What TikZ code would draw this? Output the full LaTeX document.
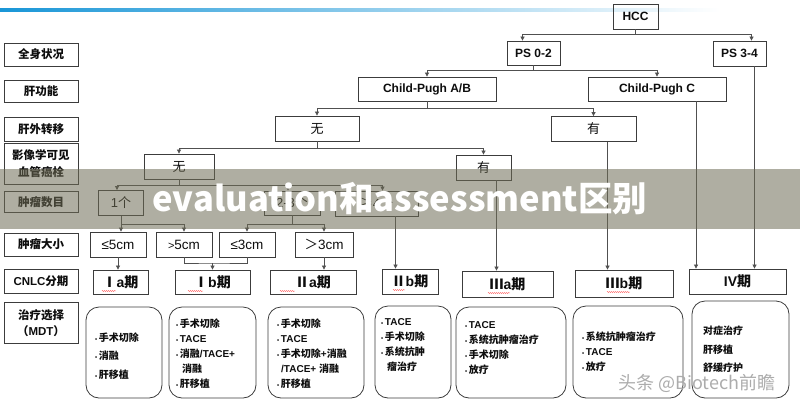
\documentclass[tikz,border=0pt]{standalone}
\usepackage{fontspec}
\setmainfont{Liberation Sans}
\newfontfamily\zh{Noto Sans CJK SC}
\usetikzlibrary{arrows.meta, positioning, calc, decorations.pathmorphing}
\definecolor{linegray}{RGB}{80,80,80}
\definecolor{boxgray}{RGB}{60,60,60}
\definecolor{bannergray}{RGB}{110,108,85}
\definecolor{topblue}{RGB}{25,150,215}
\newcommand{\bul}{{\fontsize{6}{6}\selectfont\textbullet}\,}

\begin{document}
\begin{tikzpicture}[x=1pt, y=-1pt,
    box/.style={draw=boxgray, line width=0.8pt, inner sep=0pt, text=black!95},
    lbl/.style={box, minimum width=74pt, align=center, font=\bfseries\fontsize{11.5}{17}\selectfont},
    treebox/.style={box, font=\bfseries\fontsize{12}{14}\selectfont},
    choice/.style={box, minimum height=25pt, font=\fontsize{13}{14}\selectfont},
    sizebox/.style={box, minimum width=56pt, minimum height=25pt, font=\fontsize{13.5}{14}\selectfont},
    stage/.style={box, minimum height=24pt, font=\bfseries\fontsize{14}{15}\selectfont},
    tbox/.style={draw=boxgray, line width=0.8pt, rounded corners=13pt, inner sep=0pt},
    tlist/.style={anchor=west, inner sep=0pt, align=left, text=black!95, font=\bfseries\fontsize{10}{15}\selectfont},
    arr/.style={draw=linegray, line width=0.7pt, -{Triangle[width=4pt,length=4pt]}},
    ln/.style={draw=linegray, line width=0.7pt},
    squiggle/.style={draw=red!60, line width=0.4pt, decorate, decoration={snake, amplitude=0.6pt, segment length=2pt}}
]
\useasboundingbox (0,0) rectangle (800,400);

% top rule
\shade[left color=topblue, right color=white] (0,8) rectangle (720,11);

% ------------------ left column ------------------
\node[lbl, minimum height=23pt] (lstatus) at (41,54.5) {{\zh 全身状况}};
\node[lbl, minimum height=22pt] (lliver) at (41,91) {{\zh 肝功能}};
\node[lbl, minimum height=24pt] (lmeta) at (41,129) {{\zh 肝外转移}};
\node[lbl, minimum height=41pt] (lvein) at (41,163.5) {{\zh 影像学可见}\\{\zh 血管癌栓}};
\node[lbl, minimum height=21pt] (lcount) at (41,202) {{\zh 肿瘤数目}};
\node[lbl, minimum height=23pt] (lsize) at (41,244.5) {{\zh 肿瘤大小}};
\node[lbl, minimum height=24pt] (lcnlc) at (41,281) {CNLC{\zh 分期}};
\node[lbl, minimum height=41pt, font=\bfseries\fontsize{11.5}{16}\selectfont] (lmdt) at (41,323) {{\zh 治疗选择}\\{\zh （}MDT{\zh ）}};

% ------------------ decision tree ------------------
\node[treebox, minimum width=45pt, minimum height=25pt] (hcc) at (635.5,16.5) {HCC};
\node[treebox, minimum width=53pt, minimum height=24pt] (ps02) at (533.5,53) {PS 0-2};
\node[treebox, minimum width=53pt, minimum height=25pt] (ps34) at (739.5,53.5) {PS 3-4};
\node[treebox, minimum width=138pt, minimum height=24pt] (cpab) at (427,89) {Child-Pugh A/B};
\node[treebox, minimum width=138pt, minimum height=24pt] (cpc) at (657,89) {Child-Pugh C};

\node[choice, minimum width=84pt] (nometa) at (317,128.5) {{\zh 无}};
\node[choice, minimum width=85pt] (meta) at (593.5,129) {{\zh 有}};
\node[choice, minimum width=70pt] (novein) at (179,166.5) {{\zh 无}};
\node[choice, minimum width=55pt] (vein) at (483.5,167.5) {{\zh 有}};

\node[choice, minimum width=45pt] (one) at (121,203) {1{\zh 个}};
\node[choice, minimum width=56pt, minimum height=24pt] (twothree) at (292,203) {2-3{\zh 个}};
\node[choice, minimum width=83pt] (four) at (376.5,203.5) {{\zh ≥}4{\zh 个}};

\node[sizebox] (lefive) at (118,244.5) {≤5cm};
\node[sizebox] (gtfive) at (184,244.5) {{\fontsize{11}{12}\selectfont >}5cm};
\node[sizebox] (lethree) at (247,244.5) {≤3cm};
\node[sizebox, minimum width=58pt] (gtthree) at (324,244.5) {{\zh ＞}3cm};

\node[stage, minimum width=55pt] (sIa) at (120.5,282) {{\zh Ⅰ}a{\zh 期}};
\node[stage, minimum width=75pt] (sIb) at (212.5,282) {{\zh Ⅰ}b{\zh 期}};
\node[stage, minimum width=86pt] (sIIa) at (313,282) {{\zh Ⅱ}a{\zh 期}};
\node[stage, minimum width=56pt, minimum height=25pt] (sIIb) at (410,281.5) {{\zh Ⅱ}b{\zh 期}};
\node[stage, minimum width=91pt, minimum height=26pt] (sIIIa) at (507.5,284) {{\zh Ⅲ}a{\zh 期}};
\node[stage, minimum width=98pt, minimum height=27pt] (sIIIb) at (624,283.5) {{\zh Ⅲ}b{\zh 期}};
\node[stage, minimum width=97pt, minimum height=25pt] (sIV) at (737.5,281.5) {IV{\zh 期}};

% spell-check marks
\draw[squiggle] (102,291) -- (116,291);
\draw[squiggle] (188,291) -- (203,291);
\draw[squiggle] (280,291) -- (295,291);
\draw[squiggle] (393,290) -- (405,290);
\draw[squiggle] (488,293) -- (510,293);
\draw[squiggle] (607,292) -- (630,292);

% branches
\draw[arr] (hcc.south) -- ++(0,5) -| ([xshift=-11pt]ps02.north);
\draw[arr] (hcc.south) -- ++(0,5) -| ([xshift=12pt]ps34.north);
\draw[arr] (ps02.south) -- ++(0,5) -| (cpab.north);
\draw[arr] (ps02.south) -- ++(0,5) -| (cpc.north);
\draw[arr] (cpab.south) -- ++(0,7) -| (nometa.north);
\draw[arr] (cpab.south) -- ++(0,7) -| (meta.north);
\draw[arr] (nometa.south) -- ++(0,7) -| (novein.north);
\draw[arr] (nometa.south) -- ++(0,7) -| (vein.north);
\draw[arr] (novein.south) -- ++(0,6) -| ([xshift=-4pt]one.north);
\draw[arr] (novein.south) -- ++(0,6) -| ([xshift=-4pt]twothree.north);
\draw[arr] (novein.south) -- ++(0,6) -| ([xshift=6pt]four.north);
\draw[arr] (one.south) -- (one.south |- lefive.north);
\draw[arr] (one.south) -- ++(0,8) -| (gtfive.north);
\draw[arr] (twothree.south) -- ++(0,9) -| (lethree.north);
\draw[arr] (twothree.south) -- ++(0,9) -| (gtthree.north);

% sizes to stages
\coordinate (join) at (212.5,263);
\draw[arr] (lefive.south) -- (lefive.south |- sIa.north);
\draw[ln] (gtfive.south) |- (join) -| (lethree.south);
\draw[arr] (join) -- (sIb.north);
\draw[arr] (gtthree.south) -- (gtthree.south |- sIIa.north);
\draw[arr] ([xshift=19pt]four.south) -- ([xshift=19pt]four.south |- sIIb.north);
\draw[arr] ([xshift=13pt]vein.south) -- ([xshift=13pt]vein.south |- sIIIa.north);
\draw[arr] ([xshift=14pt]meta.south) -- ([xshift=14pt]meta.south |- sIIIb.north);
\draw[arr] ([xshift=39pt]cpc.south) -- ([xshift=39pt]cpc.south |- sIV.north);
\draw[arr] ([xshift=15pt]ps34.south) -- ([xshift=15pt]ps34.south |- sIV.north);

% ------------------ treatment options ------------------
\node[tbox, minimum width=76pt, minimum height=91pt] (tIa) at (124,352.5) {};
\node[tbox, minimum width=87pt, minimum height=91pt] (tIb) at (212.5,352.5) {};
\node[tbox, minimum width=96pt, minimum height=91pt] (tIIa) at (316,352.5) {};
\node[tbox, minimum width=76pt, minimum height=92pt] (tIIb) at (413,352) {};
\node[tbox, minimum width=110pt, minimum height=91pt] (tIIIa) at (511,352.5) {};
\node[tbox, minimum width=110pt, minimum height=92pt] (tIIIb) at (628,352) {};
\node[tbox, minimum width=97pt, minimum height=97pt] (tIV) at (740.5,349.5) {};

\node[tlist, font=\bfseries\fontsize{10}{18.5}\selectfont] (lIa) at (95,356) {\bul{\zh 手术切除}\\\bul{\zh 消融}\\\bul{\zh 肝移植}};
\node[tlist] (lIb) at (176,354) {\bul{\zh 手术切除}\\\bul TACE\\\bul{\zh 消融}/TACE+\\\hspace*{6pt}{\zh 消融}\\\bul{\zh 肝移植}};
\node[tlist] (lIIa) at (277,354) {\bul{\zh 手术切除}\\\bul TACE\\\bul{\zh 手术切除}+{\zh 消融}\\\hspace*{4pt}/TACE+ {\zh 消融}\\\bul{\zh 肝移植}};
\node[tlist] (lIIb) at (381,344.5) {\bul TACE\\\bul{\zh 手术切除}\\\bul{\zh 系统抗肿}\\\hspace*{6pt}{\zh 瘤治疗}};
\node[tlist, font=\bfseries\fontsize{10}{15.3}\selectfont] (lIIIa) at (465,348) {\bul TACE\\\bul{\zh 系统抗肿瘤治疗}\\\bul{\zh 手术切除}\\\bul{\zh 放疗}};
\node[tlist] (lIIIb) at (582,352) {\bul{\zh 系统抗肿瘤治疗}\\\bul TACE\\\bul{\zh 放疗}};
\node[tlist, font=\bfseries\fontsize{10}{18.5}\selectfont] (lIV) at (703,349.5) {{\zh 对症治疗}\\{\zh 肝移植}\\{\zh 舒缓疗护}};

% ------------------ overlay ------------------
\fill[bannergray, fill opacity=0.55] (0,169) rectangle (800,229);
\node[text=white, font=\zh\bfseries\fontsize{34.5}{35}\selectfont] (title) at (400,199) {evaluation和assessment区别};
\node[text=gray!65, font=\zh\fontsize{18}{18}\selectfont] (mark) at (697,383) {头条 @Biotech前瞻};

\end{tikzpicture}
\end{document}
